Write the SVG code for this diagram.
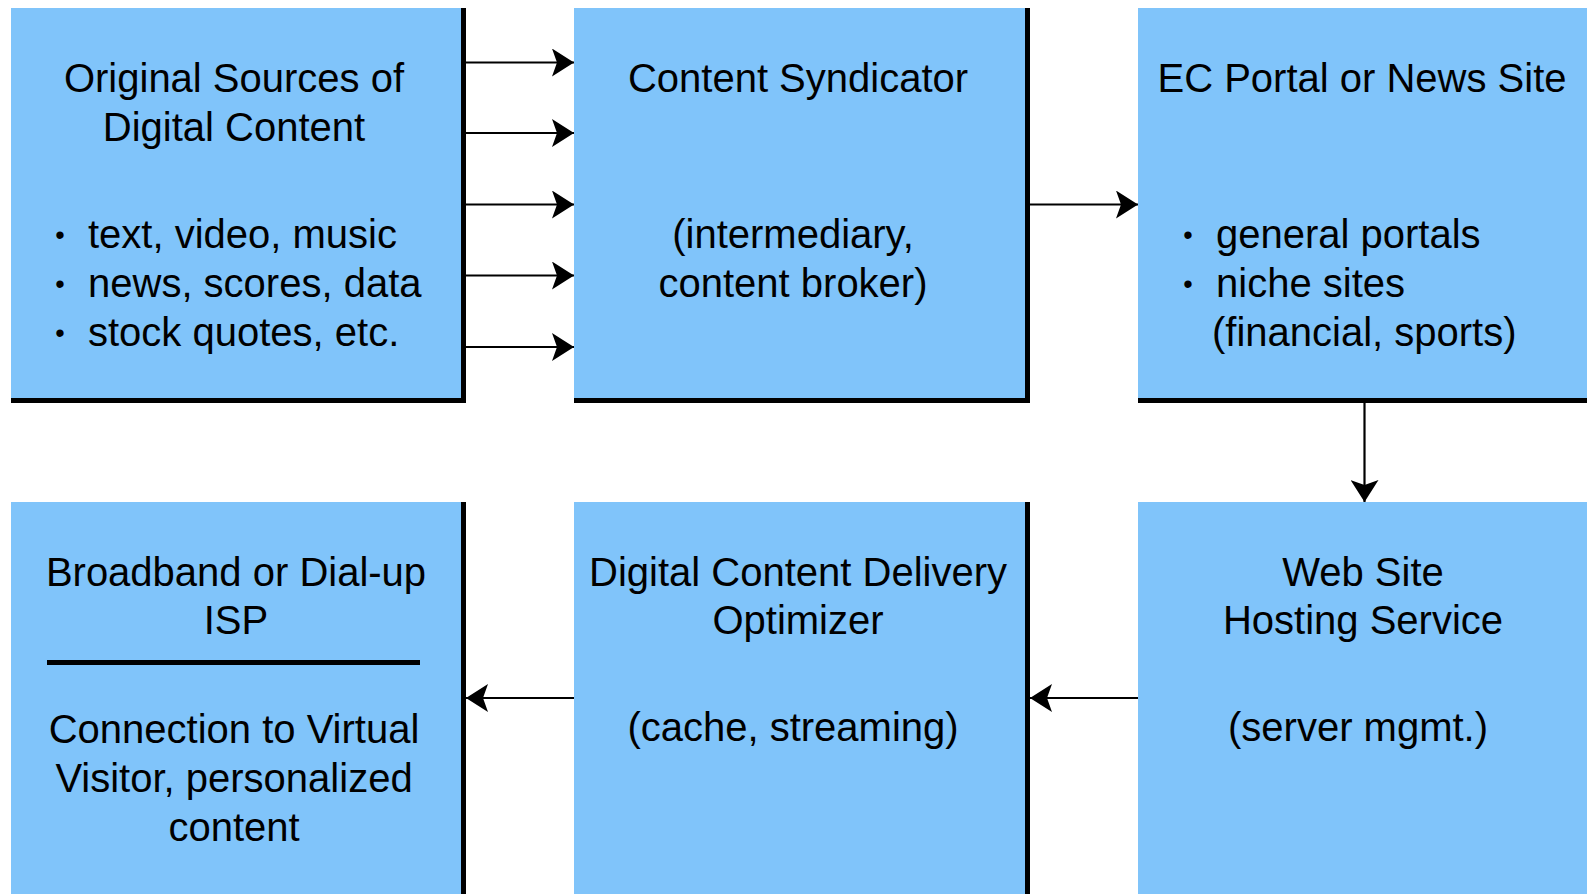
<svg xmlns="http://www.w3.org/2000/svg" width="1587" height="894" viewBox="0 0 1587 894">
<style>
.box{fill:#80C4FA}
.edge{stroke:#000;stroke-width:5;fill:none}
.t{font-family:"Liberation Sans",Arial,Helvetica,sans-serif;font-size:40px;fill:#000}
.b{font-family:"Liberation Sans",Arial,Helvetica,sans-serif;font-size:27px;fill:#000;text-anchor:middle}
.c{text-anchor:middle}
.conn{stroke:#000;stroke-width:2.2;fill:none;marker-end:url(#ah)}
</style>
<defs>
<marker id="ah" markerUnits="userSpaceOnUse" markerWidth="24" markerHeight="28" refX="22" refY="14" orient="auto" viewBox="0 0 24 28">
<path d="M0,0 L22,14 L0,28 L5,14 Z" fill="#000"/>
</marker>
</defs>
<rect width="1587" height="894" fill="#fff"/>

<g id="node-sources">
<rect class="box" x="11" y="8" width="452" height="392"/>
<path class="edge" d="M463.5,8 V400.5 H11"/>
<text class="t c" x="234" y="92">Original Sources of</text>
<text class="t c" x="234" y="141">Digital Content</text>
<text class="b" x="60" y="244">•</text>
<text class="t" x="88" y="248">text, video, music</text>
<text class="b" x="60" y="293">•</text>
<text class="t" x="88" y="297">news, scores, data</text>
<text class="b" x="60" y="342">•</text>
<text class="t" x="88" y="346">stock quotes, etc.</text>
</g>

<g id="node-syndicator">
<rect class="box" x="574" y="8" width="453" height="392"/>
<path class="edge" d="M1027.5,8 V400.5 H574"/>
<text class="t c" x="798" y="92">Content Syndicator</text>
<text class="t c" x="793" y="248">(intermediary,</text>
<text class="t c" x="793" y="297">content broker)</text>
</g>

<g id="node-portal">
<rect class="box" x="1138" y="8" width="449" height="392"/>
<path class="edge" d="M1138,400.5 H1587"/>
<text class="t c" x="1362" y="92">EC Portal or News Site</text>
<text class="b" x="1188" y="244">•</text>
<text class="t" x="1216" y="248">general portals</text>
<text class="b" x="1188" y="293">•</text>
<text class="t" x="1216" y="297">niche sites</text>
<text class="t" x="1212" y="346">(financial, sports)</text>
</g>

<g id="node-isp">
<rect class="box" x="11" y="502" width="452" height="392"/>
<path class="edge" d="M463.5,502 V894"/>
<text class="t c" x="236" y="586">Broadband or Dial-up</text>
<text class="t c" x="236" y="634">ISP</text>
<line x1="47" y1="662.5" x2="420" y2="662.5" stroke="#000" stroke-width="5"/>
<text class="t c" x="234" y="743">Connection to Virtual</text>
<text class="t c" x="234" y="792">Visitor, personalized</text>
<text class="t c" x="234" y="841">content</text>
</g>

<g id="node-optimizer">
<rect class="box" x="574" y="502" width="453" height="392"/>
<path class="edge" d="M1027.5,502 V894"/>
<text class="t c" x="798" y="586">Digital Content Delivery</text>
<text class="t c" x="798" y="634">Optimizer</text>
<text class="t c" x="793" y="741">(cache, streaming)</text>
</g>

<g id="node-hosting">
<rect class="box" x="1138" y="502" width="449" height="392"/>
<text class="t c" x="1363" y="586">Web Site</text>
<text class="t c" x="1363" y="634">Hosting Service</text>
<text class="t c" x="1358" y="741">(server mgmt.)</text>
</g>

<g id="connectors">
<line class="conn" x1="466" y1="62.5" x2="574" y2="62.5"/>
<line class="conn" x1="466" y1="133" x2="574" y2="133"/>
<line class="conn" x1="466" y1="204.5" x2="574" y2="204.5"/>
<line class="conn" x1="466" y1="275.5" x2="574" y2="275.5"/>
<line class="conn" x1="466" y1="347" x2="574" y2="347"/>
<line class="conn" x1="1030" y1="204.5" x2="1138" y2="204.5"/>
<line class="conn" x1="1364.5" y1="403" x2="1364.5" y2="502"/>
<line class="conn" x1="1138" y1="698" x2="1030" y2="698"/>
<line class="conn" x1="574" y1="698" x2="466" y2="698"/>
</g>
</svg>
